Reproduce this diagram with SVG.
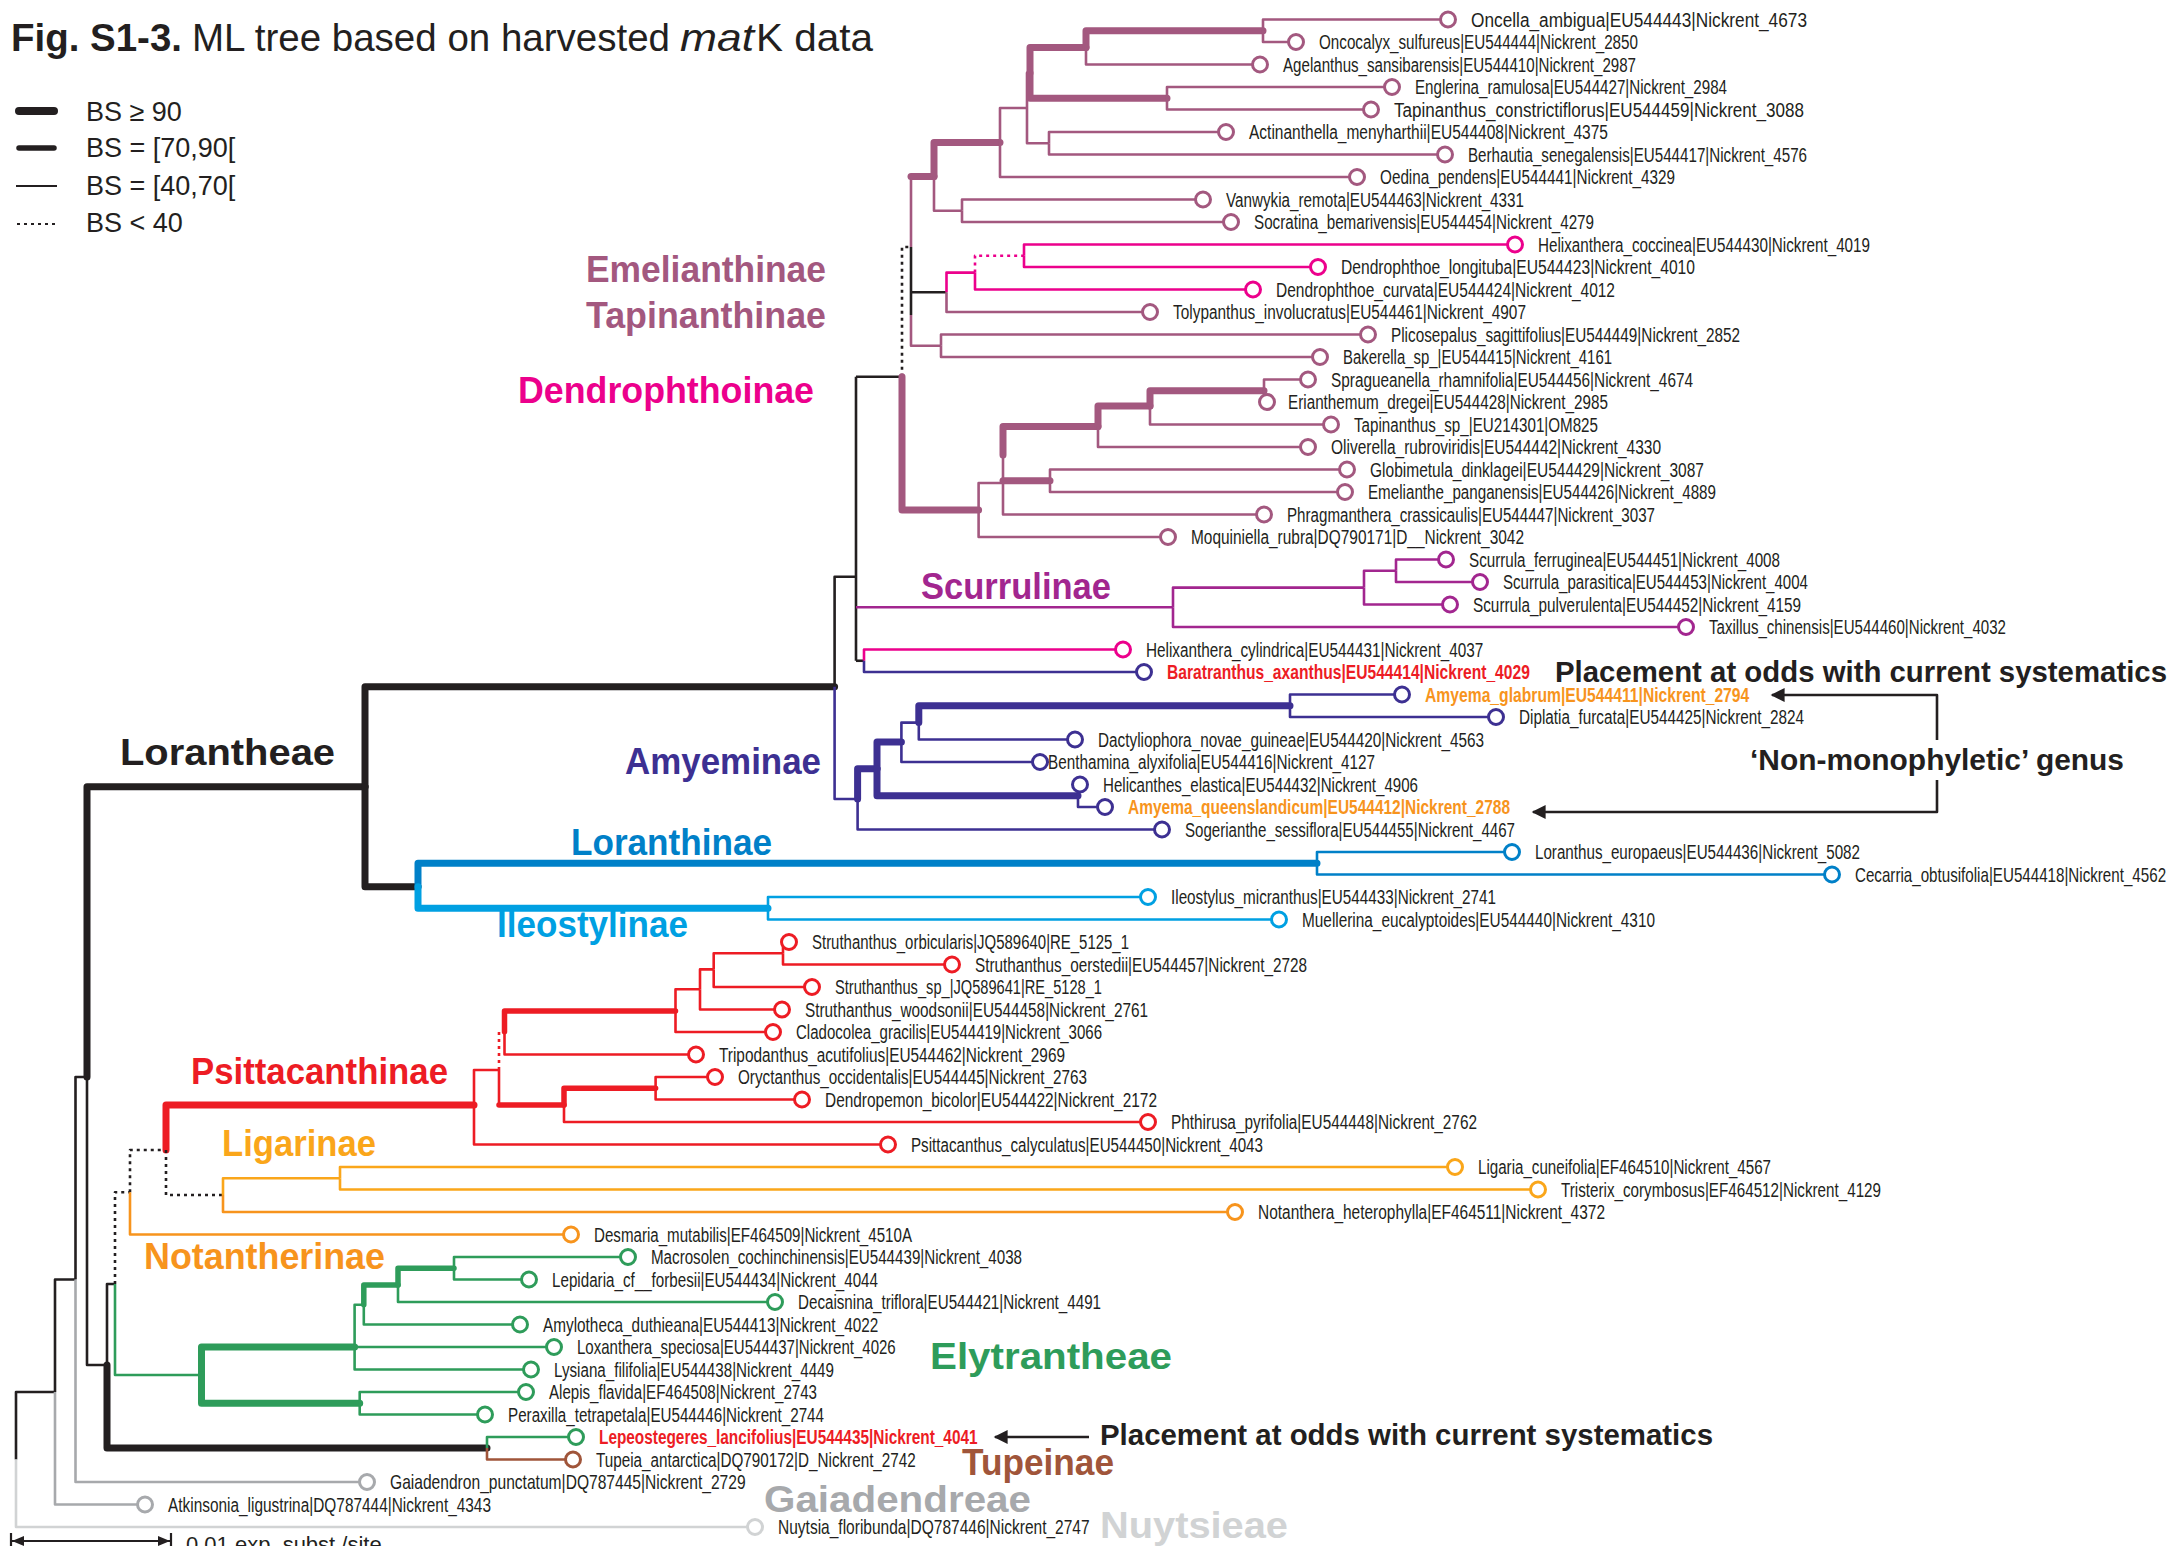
<svg xmlns="http://www.w3.org/2000/svg" width="2183" height="1546" viewBox="0 0 2183 1546">
<style>
.b{fill:none;stroke-linejoin:round}
.n{stroke-width:2.6}
.m{stroke-width:5.5;stroke-linecap:round}
.t{stroke-width:7;stroke-linecap:round}
.d{stroke-width:2.6;stroke-dasharray:3 4}
.k{stroke:#231f20}.mv{stroke:#a3587f}.mg{stroke:#ec008c}.pu{stroke:#a2268f}.nv{stroke:#3d3092}
.b1{stroke:#0080c8}.b2{stroke:#00a0e2}.rd{stroke:#ed1c24}.yo{stroke:#faa61a}.or{stroke:#f7941d}
.gr{stroke:#2e9c5a}.br{stroke:#a0553a}.gy{stroke:#a7a9ac}.lg{stroke:#d1d3d4}
.c{fill:#fff;stroke-width:3}
text{font-family:"Liberation Sans",Arial,sans-serif}
.lb{font-size:20px;fill:#231f20}
.lbb{font-size:20px;font-weight:bold}
.cl{font-size:36px;font-weight:bold}
.ann{font-size:29px;font-weight:bold;fill:#231f20}
.leg{font-size:27px;fill:#231f20}
</style>
<defs>
<marker id="ahl" viewBox="0 0 10 10" refX="9" refY="5" markerWidth="18" markerHeight="14" orient="auto" markerUnits="userSpaceOnUse">
<path d="M0,0 L10,5 L0,10 z" fill="#231f20"/>
</marker>
</defs>
<rect width="2183" height="1546" fill="#fff"/>

<g id="title">
<text y="51" font-size="38.5" fill="#231f20"><tspan x="11" font-weight="bold" textLength="171" lengthAdjust="spacingAndGlyphs">Fig. S1-3.</tspan><tspan x="192" textLength="478" lengthAdjust="spacingAndGlyphs">ML tree based on harvested</tspan><tspan x="680" font-style="italic" textLength="74" lengthAdjust="spacingAndGlyphs">mat</tspan><tspan x="756" textLength="117" lengthAdjust="spacingAndGlyphs">K data</tspan></text>
</g>

<g id="legend">
<path class="b k" d="M19,111 H54" stroke-width="8" stroke-linecap="round"/>
<path class="b k" d="M19,148 H54" stroke-width="5.5" stroke-linecap="round"/>
<path class="b k" d="M16,186 H57" stroke-width="2"/>
<path class="b k" d="M17,224 H56" stroke-width="2.2" stroke-dasharray="3 4"/>
<text class="leg" x="86" y="121">BS ≥ 90</text>
<text class="leg" x="86" y="157">BS = [70,90[</text>
<text class="leg" x="86" y="195">BS = [40,70[</text>
<text class="leg" x="86" y="232">BS &lt; 40</text>
</g>

<g id="connectors">
<path class="b k n" d="M16,1459.5 V1392 H55"/>
<path class="b lg n" d="M16,1459.5 V1527 H755"/>
<path class="b k n" d="M55,1392 V1279.5 H75.5"/>
<path class="b gy n" d="M55,1392 V1504.5 H145"/>
<path class="b k n" d="M75.5,1279.5 V1077 H87"/>
<path class="b gy n" d="M75.5,1279.5 V1482 H367"/>
<path class="b k n" d="M87,1077 V1365 H107"/>
<path class="b k t" d="M87,1077 V786.7 H365"/>
<path class="b k n" d="M107,1365 V1284 H115"/>
<path class="b k t" d="M107,1365 V1448 H487"/>
<path class="b gr n" d="M487,1448 V1437 H576"/>
<path class="b br n" d="M487,1448 V1459.5 H573"/>
<path class="b k d" d="M115,1284 V1192.25 H130"/>
<path class="b gr n" d="M115,1284 V1375 H201.5"/>
<path class="b k d" d="M130,1192.25 V1150 H166"/>
<path class="b or n" d="M130,1192.25 V1234.5 H571"/>
<path class="b rd t" d="M166,1150 V1105 H474"/>
<path class="b k d" d="M166,1150 V1195 H223"/>
<path class="b yo n" d="M223,1195 V1178.25 H340"/>
<path class="b or n" d="M223,1195 V1212 H1235"/>
<path class="b yo n" d="M340,1178.25 V1167 H1455"/>
<path class="b yo n" d="M340,1178.25 V1189.5 H1538"/>
<path class="b rd n" d="M474,1105 V1070 H499"/>
<path class="b rd n" d="M474,1105 V1144.5 H888"/>
<path class="b rd d" d="M499,1070 V1031.75 H504.5"/>
<path class="b rd n" d="M499,1070 V1105"/>
<path class="b rd m" d="M499,1105 H564"/>
<path class="b rd m" d="M504.5,1031.75 V1011 H675.5"/>
<path class="b rd n" d="M504.5,1031.75 V1054.5 H696"/>
<path class="b rd n" d="M675.5,1011 V989.3 H700"/>
<path class="b rd n" d="M675.5,1011 V1032 H773"/>
<path class="b rd n" d="M700,989.3 V969.4 H713.7"/>
<path class="b rd n" d="M700,989.3 V1009.5 H782"/>
<path class="b rd n" d="M713.7,969.4 V953.25 H783"/>
<path class="b rd n" d="M713.7,969.4 V987 H812"/>
<path class="b rd n" d="M783,953.25 V942 H789"/>
<path class="b rd n" d="M783,953.25 V964.5 H952"/>
<path class="b rd m" d="M564,1105 V1088.25 H655.6"/>
<path class="b rd n" d="M564,1105 V1122 H1148"/>
<path class="b rd n" d="M655.6,1088.25 V1077 H715"/>
<path class="b rd n" d="M655.6,1088.25 V1099.5 H802"/>
<path class="b gr t" d="M201.5,1375 V1347 H354.6"/>
<path class="b gr t" d="M201.5,1375 V1403.25 H359.7"/>
<path class="b gr n" d="M354.6,1347 V1304.75 H363.8"/>
<path class="b gr n" d="M354.6,1347 H554"/>
<path class="b gr n" d="M354.6,1347 V1369.5 H529"/>
<path class="b gr m" d="M363.8,1304.75 V1285 H398"/>
<path class="b gr n" d="M363.8,1304.75 V1324.5 H520"/>
<path class="b gr m" d="M398,1285 V1268.25 H454"/>
<path class="b gr n" d="M398,1285 V1302 H775"/>
<path class="b gr n" d="M454,1268.25 V1257 H628"/>
<path class="b gr n" d="M454,1268.25 V1279.5 H529"/>
<path class="b gr n" d="M359.7,1403.25 V1392 H526"/>
<path class="b gr n" d="M359.7,1403.25 V1414.5 H485"/>
<path class="b k t" d="M365,786.7 V686.7 H834.6"/>
<path class="b k t" d="M365,786.7 V886.7 H418"/>
<path class="b b1 t" d="M418,886.7 V863.25 H1317"/>
<path class="b b2 t" d="M418,886.7 V908.25 H768"/>
<path class="b b1 n" d="M1317,863.25 V852 H1512"/>
<path class="b b1 n" d="M1317,863.25 V874.5 H1832"/>
<path class="b b2 n" d="M768,908.25 V897 H1148"/>
<path class="b b2 n" d="M768,908.25 V919.5 H1279"/>
<path class="b k n" d="M834.6,686.7 V576.7 H856"/>
<path class="b nv n" d="M834.6,686.7 V799 H857.6"/>
<path class="b k n" d="M856,376.7 V660.75"/>
<path class="b k n" d="M856,376.7 H902"/>
<path class="b pu n" d="M856,607.3 H1173"/>
<path class="b k n" d="M856,660.75 H864"/>
<path class="b mg n" d="M864,660.75 V649.5 H1123"/>
<path class="b nv n" d="M864,660.75 V672 H1144"/>
<path class="b pu n" d="M1173,607.3 V587.6 H1364"/>
<path class="b pu n" d="M1173,607.3 V627 H1686"/>
<path class="b pu n" d="M1364,587.6 V570.75 H1396"/>
<path class="b pu n" d="M1364,587.6 V604.5 H1450"/>
<path class="b pu n" d="M1396,570.75 V559.5 H1446"/>
<path class="b pu n" d="M1396,570.75 V582 H1480"/>
<path class="b nv t" d="M857.6,799 V768.7 H877"/>
<path class="b nv n" d="M857.6,799 V829.5 H1162"/>
<path class="b nv t" d="M877,768.7 V741.9 H901.4"/>
<path class="b nv t" d="M877,768.7 V795.75 H1078"/>
<path class="b nv n" d="M1078,795.75 V784.5 H1080"/>
<path class="b nv n" d="M1078,795.75 V807 H1105"/>
<path class="b nv n" d="M901.4,741.9 V722.6 H918.8"/>
<path class="b nv n" d="M901.4,741.9 V762 H1040"/>
<path class="b nv t" d="M918.8,722.6 V705.75 H1290"/>
<path class="b nv n" d="M918.8,722.6 V739.5 H1075"/>
<path class="b nv n" d="M1290,705.75 V694.5 H1402"/>
<path class="b nv n" d="M1290,705.75 V717 H1496"/>
<path class="b k d" d="M902,376.7 V247 H911"/>
<path class="b mv t" d="M902,376.7 V510 H978.6"/>
<path class="b mv n" d="M911,176.6 V247"/>
<path class="b k n" d="M911,247 V315"/>
<path class="b mv n" d="M911,315 V345.75 H941"/>
<path class="b k n" d="M911,292.3 H946.5"/>
<path class="b mv t" d="M911,176.6 H934"/>
<path class="b mg n" d="M946.5,292.3 V272.6 H975"/>
<path class="b mv n" d="M946.5,292.3 V312 H1150"/>
<path class="b mg d" d="M975,272.6 V255.75 H1024"/>
<path class="b mg n" d="M975,272.6 V289.5 H1253"/>
<path class="b mg n" d="M1024,255.75 V244.5 H1515"/>
<path class="b mg n" d="M1024,255.75 V267 H1318"/>
<path class="b mv n" d="M941,345.75 V334.5 H1368"/>
<path class="b mv n" d="M941,345.75 V357 H1320"/>
<path class="b mv t" d="M934,176.6 V142.5 H1000"/>
<path class="b mv n" d="M934,176.6 V210.75 H962"/>
<path class="b mv n" d="M962,210.75 V199.5 H1203"/>
<path class="b mv n" d="M962,210.75 V222 H1231"/>
<path class="b mv n" d="M1000,142.5 V108 H1027"/>
<path class="b mv n" d="M1000,142.5 V177 H1357"/>
<path class="b mv n" d="M1027,108 V72.9 H1030"/>
<path class="b mv n" d="M1027,108 V143.25 H1049"/>
<path class="b mv n" d="M1049,143.25 V132 H1226"/>
<path class="b mv n" d="M1049,143.25 V154.5 H1445"/>
<path class="b mv t" d="M1030,72.9 V47.6 H1086"/>
<path class="b mv t" d="M1030,72.9 V98.25 H1167"/>
<path class="b mv t" d="M1086,47.6 V30.75 H1263"/>
<path class="b mv n" d="M1086,47.6 V64.5 H1260"/>
<path class="b mv n" d="M1263,30.75 V19.5 H1448"/>
<path class="b mv n" d="M1263,30.75 V42 H1296"/>
<path class="b mv n" d="M1167,98.25 V87 H1392"/>
<path class="b mv n" d="M1167,98.25 V109.5 H1371"/>
<path class="b mv n" d="M978.6,510 V483 H1003"/>
<path class="b mv n" d="M978.6,510 V537 H1168"/>
<path class="b mv n" d="M1003,483 V455"/>
<path class="b mv t" d="M1003,455 V426.5 H1098"/>
<path class="b mv t" d="M1003,480.75 H1050"/>
<path class="b mv n" d="M1003,483 V514.5 H1264"/>
<path class="b mv n" d="M1050,480.75 V469.5 H1347"/>
<path class="b mv n" d="M1050,480.75 V492 H1345"/>
<path class="b mv t" d="M1098,426.5 V406 H1150"/>
<path class="b mv n" d="M1098,426.5 V447 H1308"/>
<path class="b mv t" d="M1150,406 V390.75 H1264"/>
<path class="b mv n" d="M1150,406 V424.5 H1331"/>
<path class="b mv n" d="M1264,390.75 V379.5 H1308"/>
<path class="b mv n" d="M1264,390.75 V402 H1267"/>
<path class="b k" stroke-width="2.6" d="M1937,740 V695 H1772" marker-end="url(#ahl)"/>
<path class="b k" stroke-width="2.6" d="M1937,780 V812 H1533" marker-end="url(#ahl)"/>
<path class="b k" stroke-width="2.6" d="M1089,1437 H995" marker-end="url(#ahl)"/>
</g>

<g id="tips">
<g id="t01"><circle class="c mv" cx="1448" cy="19.5" r="7.5"/><text class="lb" x="1471" y="26.5" textLength="336" lengthAdjust="spacingAndGlyphs">Oncella_ambigua|EU544443|Nickrent_4673</text></g>
<g id="t02"><circle class="c mv" cx="1296" cy="42" r="7.5"/><text class="lb" x="1319" y="49" textLength="319" lengthAdjust="spacingAndGlyphs">Oncocalyx_sulfureus|EU544444|Nickrent_2850</text></g>
<g id="t03"><circle class="c mv" cx="1260" cy="64.5" r="7.5"/><text class="lb" x="1283" y="71.5" textLength="353" lengthAdjust="spacingAndGlyphs">Agelanthus_sansibarensis|EU544410|Nickrent_2987</text></g>
<g id="t04"><circle class="c mv" cx="1392" cy="87" r="7.5"/><text class="lb" x="1415" y="94" textLength="312" lengthAdjust="spacingAndGlyphs">Englerina_ramulosa|EU544427|Nickrent_2984</text></g>
<g id="t05"><circle class="c mv" cx="1371" cy="109.5" r="7.5"/><text class="lb" x="1394" y="116.5" textLength="410" lengthAdjust="spacingAndGlyphs">Tapinanthus_constrictiflorus|EU544459|Nickrent_3088</text></g>
<g id="t06"><circle class="c mv" cx="1226" cy="132" r="7.5"/><text class="lb" x="1249" y="139" textLength="359" lengthAdjust="spacingAndGlyphs">Actinanthella_menyharthii|EU544408|Nickrent_4375</text></g>
<g id="t07"><circle class="c mv" cx="1445" cy="154.5" r="7.5"/><text class="lb" x="1468" y="161.5" textLength="339" lengthAdjust="spacingAndGlyphs">Berhautia_senegalensis|EU544417|Nickrent_4576</text></g>
<g id="t08"><circle class="c mv" cx="1357" cy="177" r="7.5"/><text class="lb" x="1380" y="184" textLength="295" lengthAdjust="spacingAndGlyphs">Oedina_pendens|EU544441|Nickrent_4329</text></g>
<g id="t09"><circle class="c mv" cx="1203" cy="199.5" r="7.5"/><text class="lb" x="1226" y="206.5" textLength="298" lengthAdjust="spacingAndGlyphs">Vanwykia_remota|EU544463|Nickrent_4331</text></g>
<g id="t10"><circle class="c mv" cx="1231" cy="222" r="7.5"/><text class="lb" x="1254" y="229" textLength="340" lengthAdjust="spacingAndGlyphs">Socratina_bemarivensis|EU544454|Nickrent_4279</text></g>
<g id="t11"><circle class="c mg" cx="1515" cy="244.5" r="7.5"/><text class="lb" x="1538" y="251.5" textLength="332" lengthAdjust="spacingAndGlyphs">Helixanthera_coccinea|EU544430|Nickrent_4019</text></g>
<g id="t12"><circle class="c mg" cx="1318" cy="267" r="7.5"/><text class="lb" x="1341" y="274" textLength="354" lengthAdjust="spacingAndGlyphs">Dendrophthoe_longituba|EU544423|Nickrent_4010</text></g>
<g id="t13"><circle class="c mg" cx="1253" cy="289.5" r="7.5"/><text class="lb" x="1276" y="296.5" textLength="339" lengthAdjust="spacingAndGlyphs">Dendrophthoe_curvata|EU544424|Nickrent_4012</text></g>
<g id="t14"><circle class="c mv" cx="1150" cy="312" r="7.5"/><text class="lb" x="1173" y="319" textLength="353" lengthAdjust="spacingAndGlyphs">Tolypanthus_involucratus|EU544461|Nickrent_4907</text></g>
<g id="t15"><circle class="c mv" cx="1368" cy="334.5" r="7.5"/><text class="lb" x="1391" y="341.5" textLength="349" lengthAdjust="spacingAndGlyphs">Plicosepalus_sagittifolius|EU544449|Nickrent_2852</text></g>
<g id="t16"><circle class="c mv" cx="1320" cy="357" r="7.5"/><text class="lb" x="1343" y="364" textLength="269" lengthAdjust="spacingAndGlyphs">Bakerella_sp_|EU544415|Nickrent_4161</text></g>
<g id="t17"><circle class="c mv" cx="1308" cy="379.5" r="7.5"/><text class="lb" x="1331" y="386.5" textLength="362" lengthAdjust="spacingAndGlyphs">Spragueanella_rhamnifolia|EU544456|Nickrent_4674</text></g>
<g id="t18"><circle class="c mv" cx="1267" cy="402" r="7.5"/><text class="lb" x="1288" y="409" textLength="320" lengthAdjust="spacingAndGlyphs">Erianthemum_dregei|EU544428|Nickrent_2985</text></g>
<g id="t19"><circle class="c mv" cx="1331" cy="424.5" r="7.5"/><text class="lb" x="1354" y="431.5" textLength="244" lengthAdjust="spacingAndGlyphs">Tapinanthus_sp_|EU214301|OM825</text></g>
<g id="t20"><circle class="c mv" cx="1308" cy="447" r="7.5"/><text class="lb" x="1331" y="454" textLength="330" lengthAdjust="spacingAndGlyphs">Oliverella_rubroviridis|EU544442|Nickrent_4330</text></g>
<g id="t21"><circle class="c mv" cx="1347" cy="469.5" r="7.5"/><text class="lb" x="1370" y="476.5" textLength="334" lengthAdjust="spacingAndGlyphs">Globimetula_dinklagei|EU544429|Nickrent_3087</text></g>
<g id="t22"><circle class="c mv" cx="1345" cy="492" r="7.5"/><text class="lb" x="1368" y="499" textLength="348" lengthAdjust="spacingAndGlyphs">Emelianthe_panganensis|EU544426|Nickrent_4889</text></g>
<g id="t23"><circle class="c mv" cx="1264" cy="514.5" r="7.5"/><text class="lb" x="1287" y="521.5" textLength="368" lengthAdjust="spacingAndGlyphs">Phragmanthera_crassicaulis|EU544447|Nickrent_3037</text></g>
<g id="t24"><circle class="c mv" cx="1168" cy="537" r="7.5"/><text class="lb" x="1191" y="544" textLength="333" lengthAdjust="spacingAndGlyphs">Moquiniella_rubra|DQ790171|D__Nickrent_3042</text></g>
<g id="t25"><circle class="c pu" cx="1446" cy="559.5" r="7.5"/><text class="lb" x="1469" y="566.5" textLength="311" lengthAdjust="spacingAndGlyphs">Scurrula_ferruginea|EU544451|Nickrent_4008</text></g>
<g id="t26"><circle class="c pu" cx="1480" cy="582" r="7.5"/><text class="lb" x="1503" y="589" textLength="305" lengthAdjust="spacingAndGlyphs">Scurrula_parasitica|EU544453|Nickrent_4004</text></g>
<g id="t27"><circle class="c pu" cx="1450" cy="604.5" r="7.5"/><text class="lb" x="1473" y="611.5" textLength="328" lengthAdjust="spacingAndGlyphs">Scurrula_pulverulenta|EU544452|Nickrent_4159</text></g>
<g id="t28"><circle class="c pu" cx="1686" cy="627" r="7.5"/><text class="lb" x="1709" y="634" textLength="297" lengthAdjust="spacingAndGlyphs">Taxillus_chinensis|EU544460|Nickrent_4032</text></g>
<g id="t29"><circle class="c mg" cx="1123" cy="649.5" r="7.5"/><text class="lb" x="0" y="0" transform="translate(1146 656.5) scale(0.766 1)">Helixanthera_cylindrica|EU544431|Nickrent_4037</text></g>
<g id="t30"><circle class="c nv" cx="1144" cy="672" r="7.5"/><text class="lbb" fill="#ed1c24" x="0" y="0" transform="translate(1167 679) scale(0.781 1)">Baratranthus_axanthus|EU544414|Nickrent_4029</text></g>
<g id="t31"><circle class="c nv" cx="1402" cy="694.5" r="7.5"/><text class="lbb" fill="#f7941d" x="0" y="0" transform="translate(1425 701.5) scale(0.784 1)">Amyema_glabrum|EU544411|Nickrent_2794</text></g>
<g id="t32"><circle class="c nv" cx="1496" cy="717" r="7.5"/><text class="lb" x="1519" y="724" textLength="285" lengthAdjust="spacingAndGlyphs">Diplatia_furcata|EU544425|Nickrent_2824</text></g>
<g id="t33"><circle class="c nv" cx="1075" cy="739.5" r="7.5"/><text class="lb" x="1098" y="746.5" textLength="386" lengthAdjust="spacingAndGlyphs">Dactyliophora_novae_guineae|EU544420|Nickrent_4563</text></g>
<g id="t34"><circle class="c nv" cx="1040" cy="762" r="7.5"/><text class="lb" x="1048" y="769" textLength="327" lengthAdjust="spacingAndGlyphs">Benthamina_alyxifolia|EU544416|Nickrent_4127</text></g>
<g id="t35"><circle class="c nv" cx="1080" cy="784.5" r="7.5"/><text class="lb" x="1103" y="791.5" textLength="315" lengthAdjust="spacingAndGlyphs">Helicanthes_elastica|EU544432|Nickrent_4906</text></g>
<g id="t36"><circle class="c nv" cx="1105" cy="807" r="7.5"/><text class="lbb" fill="#f7941d" x="1128" y="814" textLength="382" lengthAdjust="spacingAndGlyphs">Amyema_queenslandicum|EU544412|Nickrent_2788</text></g>
<g id="t37"><circle class="c nv" cx="1162" cy="829.5" r="7.5"/><text class="lb" x="1185" y="836.5" textLength="330" lengthAdjust="spacingAndGlyphs">Sogerianthe_sessiflora|EU544455|Nickrent_4467</text></g>
<g id="t38"><circle class="c b1" cx="1512" cy="852" r="7.5"/><text class="lb" x="1535" y="859" textLength="325" lengthAdjust="spacingAndGlyphs">Loranthus_europaeus|EU544436|Nickrent_5082</text></g>
<g id="t39"><circle class="c b1" cx="1832" cy="874.5" r="7.5"/><text class="lb" x="0" y="0" transform="translate(1855 881.5) scale(0.758 1)">Cecarria_obtusifolia|EU544418|Nickrent_4562</text></g>
<g id="t40"><circle class="c b2" cx="1148" cy="897" r="7.5"/><text class="lb" x="1171" y="904" textLength="325" lengthAdjust="spacingAndGlyphs">Ileostylus_micranthus|EU544433|Nickrent_2741</text></g>
<g id="t41"><circle class="c b2" cx="1279" cy="919.5" r="7.5"/><text class="lb" x="1302" y="926.5" textLength="353" lengthAdjust="spacingAndGlyphs">Muellerina_eucalyptoides|EU544440|Nickrent_4310</text></g>
<g id="t42"><circle class="c rd" cx="789" cy="942" r="7.5"/><text class="lb" x="812" y="949" textLength="317" lengthAdjust="spacingAndGlyphs">Struthanthus_orbicularis|JQ589640|RE_5125_1</text></g>
<g id="t43"><circle class="c rd" cx="952" cy="964.5" r="7.5"/><text class="lb" x="975" y="971.5" textLength="332" lengthAdjust="spacingAndGlyphs">Struthanthus_oerstedii|EU544457|Nickrent_2728</text></g>
<g id="t44"><circle class="c rd" cx="812" cy="987" r="7.5"/><text class="lb" x="835" y="994" textLength="267" lengthAdjust="spacingAndGlyphs">Struthanthus_sp_|JQ589641|RE_5128_1</text></g>
<g id="t45"><circle class="c rd" cx="782" cy="1009.5" r="7.5"/><text class="lb" x="805" y="1016.5" textLength="343" lengthAdjust="spacingAndGlyphs">Struthanthus_woodsonii|EU544458|Nickrent_2761</text></g>
<g id="t46"><circle class="c rd" cx="773" cy="1032" r="7.5"/><text class="lb" x="796" y="1039" textLength="306" lengthAdjust="spacingAndGlyphs">Cladocolea_gracilis|EU544419|Nickrent_3066</text></g>
<g id="t47"><circle class="c rd" cx="696" cy="1054.5" r="7.5"/><text class="lb" x="719" y="1061.5" textLength="346" lengthAdjust="spacingAndGlyphs">Tripodanthus_acutifolius|EU544462|Nickrent_2969</text></g>
<g id="t48"><circle class="c rd" cx="715" cy="1077" r="7.5"/><text class="lb" x="738" y="1084" textLength="349" lengthAdjust="spacingAndGlyphs">Oryctanthus_occidentalis|EU544445|Nickrent_2763</text></g>
<g id="t49"><circle class="c rd" cx="802" cy="1099.5" r="7.5"/><text class="lb" x="825" y="1106.5" textLength="332" lengthAdjust="spacingAndGlyphs">Dendropemon_bicolor|EU544422|Nickrent_2172</text></g>
<g id="t50"><circle class="c rd" cx="1148" cy="1122" r="7.5"/><text class="lb" x="1171" y="1129" textLength="306" lengthAdjust="spacingAndGlyphs">Phthirusa_pyrifolia|EU544448|Nickrent_2762</text></g>
<g id="t51"><circle class="c rd" cx="888" cy="1144.5" r="7.5"/><text class="lb" x="911" y="1151.5" textLength="352" lengthAdjust="spacingAndGlyphs">Psittacanthus_calyculatus|EU544450|Nickrent_4043</text></g>
<g id="t52"><circle class="c yo" cx="1455" cy="1167" r="7.5"/><text class="lb" x="1478" y="1174" textLength="293" lengthAdjust="spacingAndGlyphs">Ligaria_cuneifolia|EF464510|Nickrent_4567</text></g>
<g id="t53"><circle class="c yo" cx="1538" cy="1189.5" r="7.5"/><text class="lb" x="1561" y="1196.5" textLength="320" lengthAdjust="spacingAndGlyphs">Tristerix_corymbosus|EF464512|Nickrent_4129</text></g>
<g id="t54"><circle class="c or" cx="1235" cy="1212" r="7.5"/><text class="lb" x="1258" y="1219" textLength="347" lengthAdjust="spacingAndGlyphs">Notanthera_heterophylla|EF464511|Nickrent_4372</text></g>
<g id="t55"><circle class="c or" cx="571" cy="1234.5" r="7.5"/><text class="lb" x="594" y="1241.5" textLength="318" lengthAdjust="spacingAndGlyphs">Desmaria_mutabilis|EF464509|Nickrent_4510A</text></g>
<g id="t56"><circle class="c gr" cx="628" cy="1257" r="7.5"/><text class="lb" x="651" y="1264" textLength="371" lengthAdjust="spacingAndGlyphs">Macrosolen_cochinchinensis|EU544439|Nickrent_4038</text></g>
<g id="t57"><circle class="c gr" cx="529" cy="1279.5" r="7.5"/><text class="lb" x="552" y="1286.5" textLength="326" lengthAdjust="spacingAndGlyphs">Lepidaria_cf__forbesii|EU544434|Nickrent_4044</text></g>
<g id="t58"><circle class="c gr" cx="775" cy="1302" r="7.5"/><text class="lb" x="798" y="1309" textLength="303" lengthAdjust="spacingAndGlyphs">Decaisnina_triflora|EU544421|Nickrent_4491</text></g>
<g id="t59"><circle class="c gr" cx="520" cy="1324.5" r="7.5"/><text class="lb" x="0" y="0" transform="translate(543 1331.5) scale(0.767 1)">Amylotheca_duthieana|EU544413|Nickrent_4022</text></g>
<g id="t60"><circle class="c gr" cx="554" cy="1347" r="7.5"/><text class="lb" x="0" y="0" transform="translate(577 1354) scale(0.752 1)">Loxanthera_speciosa|EU544437|Nickrent_4026</text></g>
<g id="t61"><circle class="c gr" cx="531" cy="1369.5" r="7.5"/><text class="lb" x="554" y="1376.5" textLength="280" lengthAdjust="spacingAndGlyphs">Lysiana_filifolia|EU544438|Nickrent_4449</text></g>
<g id="t62"><circle class="c gr" cx="526" cy="1392" r="7.5"/><text class="lb" x="549" y="1399" textLength="268" lengthAdjust="spacingAndGlyphs">Alepis_flavida|EF464508|Nickrent_2743</text></g>
<g id="t63"><circle class="c gr" cx="485" cy="1414.5" r="7.5"/><text class="lb" x="508" y="1421.5" textLength="316" lengthAdjust="spacingAndGlyphs">Peraxilla_tetrapetala|EU544446|Nickrent_2744</text></g>
<g id="t64"><circle class="c gr" cx="576" cy="1437" r="7.5"/><text class="lbb" fill="#ed1c24" x="0" y="0" transform="translate(599 1444) scale(0.769 1)">Lepeostegeres_lancifolius|EU544435|Nickrent_4041</text></g>
<g id="t65"><circle class="c br" cx="573" cy="1459.5" r="7.5"/><text class="lb" x="0" y="0" transform="translate(596 1466.5) scale(0.762 1)">Tupeia_antarctica|DQ790172|D_Nickrent_2742</text></g>
<g id="t66"><circle class="c gy" cx="367" cy="1482" r="7.5"/><text class="lb" x="0" y="0" transform="translate(390 1489) scale(0.78 1)">Gaiadendron_punctatum|DQ787445|Nickrent_2729</text></g>
<g id="t67"><circle class="c gy" cx="145" cy="1504.5" r="7.5"/><text class="lb" x="168" y="1511.5" textLength="323" lengthAdjust="spacingAndGlyphs">Atkinsonia_ligustrina|DQ787444|Nickrent_4343</text></g>
<g id="t68"><circle class="c lg" cx="755" cy="1527" r="7.5"/><text class="lb" x="0" y="0" transform="translate(778 1534) scale(0.776 1)">Nuytsia_floribunda|DQ787446|Nickrent_2747</text></g>
</g>

<g id="clade-labels">
<text class="cl" fill="#a3587f" x="586" y="282" textLength="240" lengthAdjust="spacingAndGlyphs">Emelianthinae</text>
<text class="cl" fill="#a3587f" x="586" y="328" textLength="240" lengthAdjust="spacingAndGlyphs">Tapinanthinae</text>
<text class="cl" fill="#ec008c" x="518" y="403" textLength="296" lengthAdjust="spacingAndGlyphs">Dendrophthoinae</text>
<text class="cl" fill="#a2268f" x="921" y="599" textLength="190" lengthAdjust="spacingAndGlyphs">Scurrulinae</text>
<text class="cl" fill="#3d3092" x="625" y="774" textLength="196" lengthAdjust="spacingAndGlyphs">Amyeminae</text>
<text class="cl" fill="#0080c8" x="571" y="855" textLength="201" lengthAdjust="spacingAndGlyphs">Loranthinae</text>
<text class="cl" fill="#00a0e2" x="497" y="937" textLength="191" lengthAdjust="spacingAndGlyphs">Ileostylinae</text>
<text class="cl" fill="#231f20" font-size="40" x="120" y="765" textLength="215" lengthAdjust="spacingAndGlyphs">Lorantheae</text>
<text class="cl" fill="#ed1c24" x="191" y="1084" textLength="257" lengthAdjust="spacingAndGlyphs">Psittacanthinae</text>
<text class="cl" fill="#faa61a" x="222" y="1156" textLength="154" lengthAdjust="spacingAndGlyphs">Ligarinae</text>
<text class="cl" fill="#f7941d" x="144" y="1269" textLength="241" lengthAdjust="spacingAndGlyphs">Notantherinae</text>
<text class="cl" fill="#2e9c5a" font-size="40" x="930" y="1369" textLength="242" lengthAdjust="spacingAndGlyphs">Elytrantheae</text>
<text class="cl" fill="#a0553a" x="962" y="1475" textLength="152" lengthAdjust="spacingAndGlyphs">Tupeinae</text>
<text class="cl" fill="#a7a9ac" font-size="40" x="764" y="1512" textLength="267" lengthAdjust="spacingAndGlyphs">Gaiadendreae</text>
<text class="cl" fill="#d1d3d4" font-size="40" x="1100" y="1538" textLength="188" lengthAdjust="spacingAndGlyphs">Nuytsieae</text>
</g>

<g id="annotations">
<text class="ann" x="1555" y="682" textLength="612" lengthAdjust="spacingAndGlyphs">Placement at odds with current systematics</text>
<text class="ann" x="1750" y="770" textLength="374" lengthAdjust="spacingAndGlyphs">‘Non-monophyletic’ genus</text>
<text class="ann" x="1100" y="1445" textLength="613" lengthAdjust="spacingAndGlyphs">Placement at odds with current systematics</text>
</g>

<g id="scale-bar">
<path class="b k" stroke-width="2.2" d="M12,1541 H170"/>
<path class="b k" stroke-width="2.2" d="M11,1533 V1546 M171,1533 V1546"/>
<path d="M12,1541 L24,1536 L24,1546 z M170,1541 L158,1536 L158,1546 z" fill="#231f20"/>
<text x="186" y="1552" font-size="22" fill="#231f20">0.01 exp. subst./site</text>
</g>
</svg>
